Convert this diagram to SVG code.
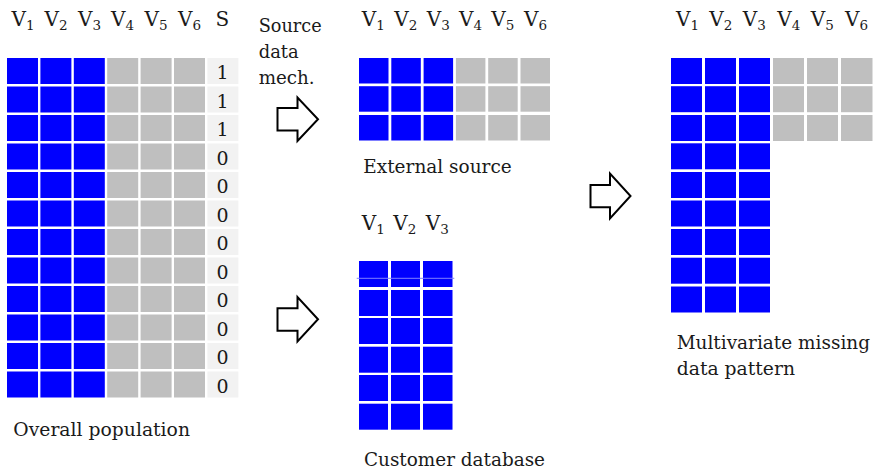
<svg xmlns="http://www.w3.org/2000/svg" xmlns:xlink="http://www.w3.org/1999/xlink" width="881" height="472" viewBox="0 0 881 472">
<style>
.b{fill:#0000ff}
.g{fill:#bfbfbf}
.s{fill:#f2f2f2}
text{fill:#1a1a1a;font-size:20px;font-family:DejaVu Serif, Liberation Serif, serif}
.n{font-size:19px;text-anchor:middle}
.sub{font-size:13.5px}
.lbl{font-size:18.5px}
.arrow{fill:#ffffff;stroke:#000000;stroke-width:2;stroke-linejoin:miter}
</style>
<defs>
<g id="rowL">
<rect class="b" x="0" y="0" width="31" height="26"/>
<rect class="b" x="33.4" y="0" width="31" height="26"/>
<rect class="b" x="66.8" y="0" width="31" height="26"/>
<rect class="g" x="100.2" y="0" width="31" height="26"/>
<rect class="g" x="133.6" y="0" width="31" height="26"/>
<rect class="g" x="167" y="0" width="31" height="26"/>
<rect class="s" x="200.4" y="0" width="31" height="26"/>
</g>
<g id="rowM">
<rect class="b" x="0" y="0" width="29.5" height="25.5"/>
<rect class="b" x="32.3" y="0" width="29.5" height="25.5"/>
<rect class="b" x="64.6" y="0" width="29.5" height="25.5"/>
<rect class="g" x="96.9" y="0" width="29.5" height="25.5"/>
<rect class="g" x="129.2" y="0" width="29.5" height="25.5"/>
<rect class="g" x="161.5" y="0" width="29.5" height="25.5"/>
</g>
<g id="rowC">
<rect class="b" x="0" y="0" width="29" height="26"/>
<rect class="b" x="32" y="0" width="29" height="26"/>
<rect class="b" x="64" y="0" width="29.5" height="26"/>
</g>
<g id="rowR3">
<rect class="b" x="0" y="0" width="31" height="26"/>
<rect class="b" x="34" y="0" width="31" height="26"/>
<rect class="b" x="68" y="0" width="31" height="26"/>
</g>
<g id="rowR6">
<use xlink:href="#rowR3"/>
<rect class="g" x="102" y="0" width="31" height="26"/>
<rect class="g" x="136" y="0" width="31" height="26"/>
<rect class="g" x="170" y="0" width="31.5" height="26"/>
</g>
</defs>
<rect width="881" height="472" fill="#ffffff"/>
<g id="overall-population">
<text x="11.5" y="26">V<tspan class="sub" dy="3.5">1</tspan></text>
<text x="44.5" y="26">V<tspan class="sub" dy="3.5">2</tspan></text>
<text x="78" y="26">V<tspan class="sub" dy="3.5">3</tspan></text>
<text x="111" y="26">V<tspan class="sub" dy="3.5">4</tspan></text>
<text x="144.5" y="26">V<tspan class="sub" dy="3.5">5</tspan></text>
<text x="178" y="26">V<tspan class="sub" dy="3.5">6</tspan></text>
<text x="215.5" y="26">S</text>
<use xlink:href="#rowL" x="7" y="58"/>
<use xlink:href="#rowL" x="7" y="86.5"/>
<use xlink:href="#rowL" x="7" y="115"/>
<use xlink:href="#rowL" x="7" y="143.5"/>
<use xlink:href="#rowL" x="7" y="172"/>
<use xlink:href="#rowL" x="7" y="200.5"/>
<use xlink:href="#rowL" x="7" y="229"/>
<use xlink:href="#rowL" x="7" y="257.5"/>
<use xlink:href="#rowL" x="7" y="286"/>
<use xlink:href="#rowL" x="7" y="314.5"/>
<use xlink:href="#rowL" x="7" y="343"/>
<use xlink:href="#rowL" x="7" y="371.5"/>
<text class="n" x="222.5" y="79">1</text>
<text class="n" x="222.5" y="107.5">1</text>
<text class="n" x="222.5" y="136">1</text>
<text class="n" x="222.5" y="164.5">0</text>
<text class="n" x="222.5" y="193">0</text>
<text class="n" x="222.5" y="221.5">0</text>
<text class="n" x="222.5" y="250">0</text>
<text class="n" x="222.5" y="278.5">0</text>
<text class="n" x="222.5" y="307">0</text>
<text class="n" x="222.5" y="335.5">0</text>
<text class="n" x="222.5" y="364">0</text>
<text class="n" x="222.5" y="392.5">0</text>
<text class="lbl" x="13.3" y="436" textLength="176.7" lengthAdjust="spacingAndGlyphs">Overall population</text>
</g>

<g id="source-data-mech">
<text class="lbl" x="258.7" y="32" textLength="63" lengthAdjust="spacingAndGlyphs">Source</text>
<text class="lbl" x="258.7" y="58" textLength="40" lengthAdjust="spacingAndGlyphs">data</text>
<text class="lbl" x="258.7" y="84" textLength="56" lengthAdjust="spacingAndGlyphs">mech.</text>
</g>

<g id="external-source">
<text x="361.7" y="26">V<tspan class="sub" dy="3.5">1</tspan></text>
<text x="394.3" y="26">V<tspan class="sub" dy="3.5">2</tspan></text>
<text x="426.7" y="26">V<tspan class="sub" dy="3.5">3</tspan></text>
<text x="459" y="26">V<tspan class="sub" dy="3.5">4</tspan></text>
<text x="491.3" y="26">V<tspan class="sub" dy="3.5">5</tspan></text>
<text x="524" y="26">V<tspan class="sub" dy="3.5">6</tspan></text>
<use xlink:href="#rowM" x="359" y="58"/>
<use xlink:href="#rowM" x="359" y="86.2"/>
<use xlink:href="#rowM" x="359" y="115"/>
<text class="lbl" x="363.3" y="173.3" textLength="148.4" lengthAdjust="spacingAndGlyphs">External source</text>
</g>

<g id="customer-database">
<text x="361.7" y="230">V<tspan class="sub" dy="3.5">1</tspan></text>
<text x="393.3" y="230">V<tspan class="sub" dy="3.5">2</tspan></text>
<text x="425.7" y="230">V<tspan class="sub" dy="3.5">3</tspan></text>
<use xlink:href="#rowC" x="359" y="261"/>
<use xlink:href="#rowC" x="359" y="290"/>
<use xlink:href="#rowC" x="359" y="318"/>
<use xlink:href="#rowC" x="359" y="346.7"/>
<use xlink:href="#rowC" x="359" y="375"/>
<use xlink:href="#rowC" x="359" y="403.7"/>
<line x1="356.7" y1="278.3" x2="454.3" y2="278.3" stroke="#8080ff" stroke-width="1"/>
<text class="lbl" x="364" y="466" textLength="181" lengthAdjust="spacingAndGlyphs">Customer database</text>
</g>

<g id="multivariate-pattern">
<text x="676" y="26">V<tspan class="sub" dy="3.5">1</tspan></text>
<text x="709.3" y="26">V<tspan class="sub" dy="3.5">2</tspan></text>
<text x="742.7" y="26">V<tspan class="sub" dy="3.5">3</tspan></text>
<text x="777.3" y="26">V<tspan class="sub" dy="3.5">4</tspan></text>
<text x="810.7" y="26">V<tspan class="sub" dy="3.5">5</tspan></text>
<text x="845" y="26">V<tspan class="sub" dy="3.5">6</tspan></text>
<use xlink:href="#rowR6" x="671" y="58"/>
<use xlink:href="#rowR6" x="671" y="86.2"/>
<use xlink:href="#rowR6" x="671" y="115"/>
<use xlink:href="#rowR3" x="671" y="143.3"/>
<use xlink:href="#rowR3" x="671" y="172"/>
<use xlink:href="#rowR3" x="671" y="200.5"/>
<use xlink:href="#rowR3" x="671" y="229"/>
<use xlink:href="#rowR3" x="671" y="257.7"/>
<use xlink:href="#rowR3" x="671" y="286.5"/>
<text class="lbl" x="676.7" y="349" textLength="193.3" lengthAdjust="spacingAndGlyphs">Multivariate missing</text>
<text class="lbl" x="676.7" y="374.5" textLength="118.3" lengthAdjust="spacingAndGlyphs">data pattern</text>
</g>

<g id="connectors">
<path class="arrow" d="M277.5,108 H297.5 V97.5 L318,119.2 L297.5,141 V130.5 H277.5 Z"/>
<path class="arrow" d="M277.5,308.3 H297.5 V297 L318,319.2 L297.5,341.5 V330.7 H277.5 Z"/>
<path class="arrow" d="M590.5,185 H610 V173.5 L630.5,196 L610,218.5 V207.3 H590.5 Z"/>
</g>
</svg>
